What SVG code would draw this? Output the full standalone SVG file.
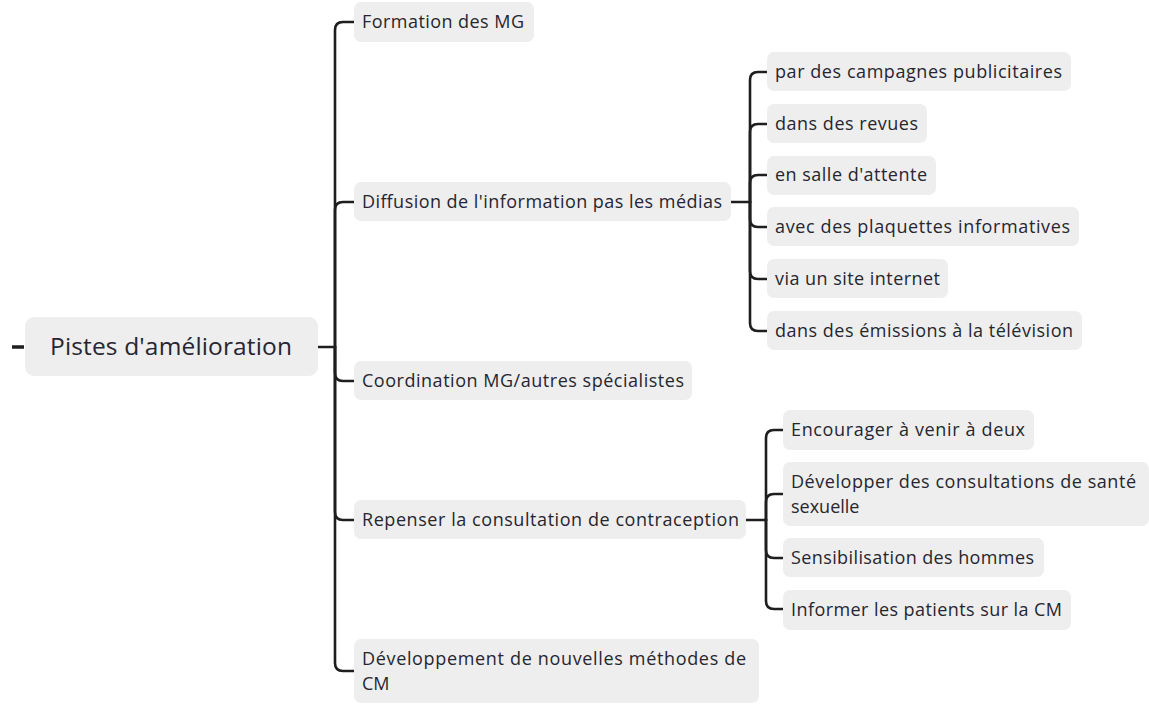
<svg xmlns="http://www.w3.org/2000/svg" width="1149" height="704" viewBox="0 0 1149 704">
<style>
.box{fill:#eeeeee;}
.t{font-family:"Open Sans","Noto Sans",sans-serif;font-size:18px;fill:#262630;}
.root{font-family:"Open Sans","Noto Sans",sans-serif;font-size:24.5px;fill:#262630;}
.c{fill:none;stroke:#1e1e1e;stroke-width:2.6;stroke-linecap:round;}
</style>
<rect width="1149" height="704" fill="#ffffff"/>
<g id="connectors">
<path class="c" d="M12 347 H24" style="stroke-width:3.5;stroke-linecap:butt"/>
<path class="c" d="M318 347 H335"/>
<path class="c" d="M335 347 V30 Q335 22 343 22 H354"/>
<path class="c" d="M335 347 V210 Q335 202 343 202 H354"/>
<path class="c" d="M335 347 V373 Q335 381 343 381 H354"/>
<path class="c" d="M335 347 V512 Q335 520 343 520 H354"/>
<path class="c" d="M335 347 V663 Q335 671 343 671 H354"/>
<path class="c" d="M731 202 H750"/>
<path class="c" d="M750 202 V80 Q750 72 758 72 H767"/>
<path class="c" d="M750 202 V132 Q750 124 758 124 H767"/>
<path class="c" d="M750 202 V183 Q750 175 758 175 H767"/>
<path class="c" d="M750 202 V219 Q750 227 758 227 H767"/>
<path class="c" d="M750 202 V271 Q750 279 758 279 H767"/>
<path class="c" d="M750 202 V323 Q750 331 758 331 H767"/>
<path class="c" d="M746 520 H766"/>
<path class="c" d="M766 520 V438 Q766 430 774 430 H783"/>
<path class="c" d="M766 520 V502 Q766 494 774 494 H783"/>
<path class="c" d="M766 520 V550 Q766 558 774 558 H783"/>
<path class="c" d="M766 520 V601 Q766 609 774 609 H783"/>
</g>
<g id="root">
<rect class="box" x="25" y="317" width="293" height="59" rx="9"/>
<text class="root" x="50" y="355" textLength="242" lengthAdjust="spacing">Pistes d'amélioration</text>
</g>
<g id="n1">
<rect class="box" x="354" y="2" width="180" height="40" rx="7"/>
<text class="t" x="362" y="28" textLength="162" lengthAdjust="spacing">Formation des MG</text>
</g>
<g id="n2">
<rect class="box" x="354" y="182" width="377" height="39" rx="7"/>
<text class="t" x="362" y="208" textLength="360" lengthAdjust="spacing">Diffusion de l'information pas les médias</text>
</g>
<g id="n2a">
<rect class="box" x="767" y="52" width="304" height="39" rx="7"/>
<text class="t" x="775" y="78" textLength="287" lengthAdjust="spacing">par des campagnes publicitaires</text>
</g>
<g id="n2b">
<rect class="box" x="767" y="104" width="160" height="39" rx="7"/>
<text class="t" x="775" y="130" textLength="143" lengthAdjust="spacing">dans des revues</text>
</g>
<g id="n2c">
<rect class="box" x="767" y="156" width="169" height="39" rx="7"/>
<text class="t" x="775" y="181" textLength="152" lengthAdjust="spacing">en salle d'attente</text>
</g>
<g id="n2d">
<rect class="box" x="767" y="207" width="312" height="39" rx="7"/>
<text class="t" x="775" y="233" textLength="295" lengthAdjust="spacing">avec des plaquettes informatives</text>
</g>
<g id="n2e">
<rect class="box" x="767" y="259" width="181" height="39" rx="7"/>
<text class="t" x="775" y="285" textLength="165" lengthAdjust="spacing">via un site internet</text>
</g>
<g id="n2f">
<rect class="box" x="767" y="311" width="315" height="39" rx="7"/>
<text class="t" x="775" y="337" textLength="298" lengthAdjust="spacing">dans des émissions à la télévision</text>
</g>
<g id="n3">
<rect class="box" x="354" y="361" width="338" height="39" rx="7"/>
<text class="t" x="362" y="387" textLength="322" lengthAdjust="spacing">Coordination MG/autres spécialistes</text>
</g>
<g id="n4">
<rect class="box" x="354" y="500" width="392" height="39" rx="7"/>
<text class="t" x="362" y="526" textLength="377" lengthAdjust="spacing">Repenser la consultation de contraception</text>
</g>
<g id="n4a">
<rect class="box" x="783" y="410" width="251" height="40" rx="7"/>
<text class="t" x="791" y="436" textLength="234" lengthAdjust="spacing">Encourager à venir à deux</text>
</g>
<g id="n4b">
<rect class="box" x="783" y="462" width="366" height="64" rx="7"/>
<text class="t" x="791" y="488" textLength="345" lengthAdjust="spacing">Développer des consultations de santé</text>
<text class="t" x="791" y="513">sexuelle</text>
</g>
<g id="n4c">
<rect class="box" x="783" y="538" width="261" height="39" rx="7"/>
<text class="t" x="791" y="564" textLength="243" lengthAdjust="spacing">Sensibilisation des hommes</text>
</g>
<g id="n4d">
<rect class="box" x="783" y="590" width="288" height="40" rx="7"/>
<text class="t" x="791" y="616" textLength="271" lengthAdjust="spacing">Informer les patients sur la CM</text>
</g>
<g id="n5">
<rect class="box" x="354" y="639" width="405" height="64" rx="7"/>
<text class="t" x="362" y="665" textLength="384" lengthAdjust="spacing">Développement de nouvelles méthodes de</text>
<text class="t" x="362" y="690">CM</text>
</g>
</svg>
